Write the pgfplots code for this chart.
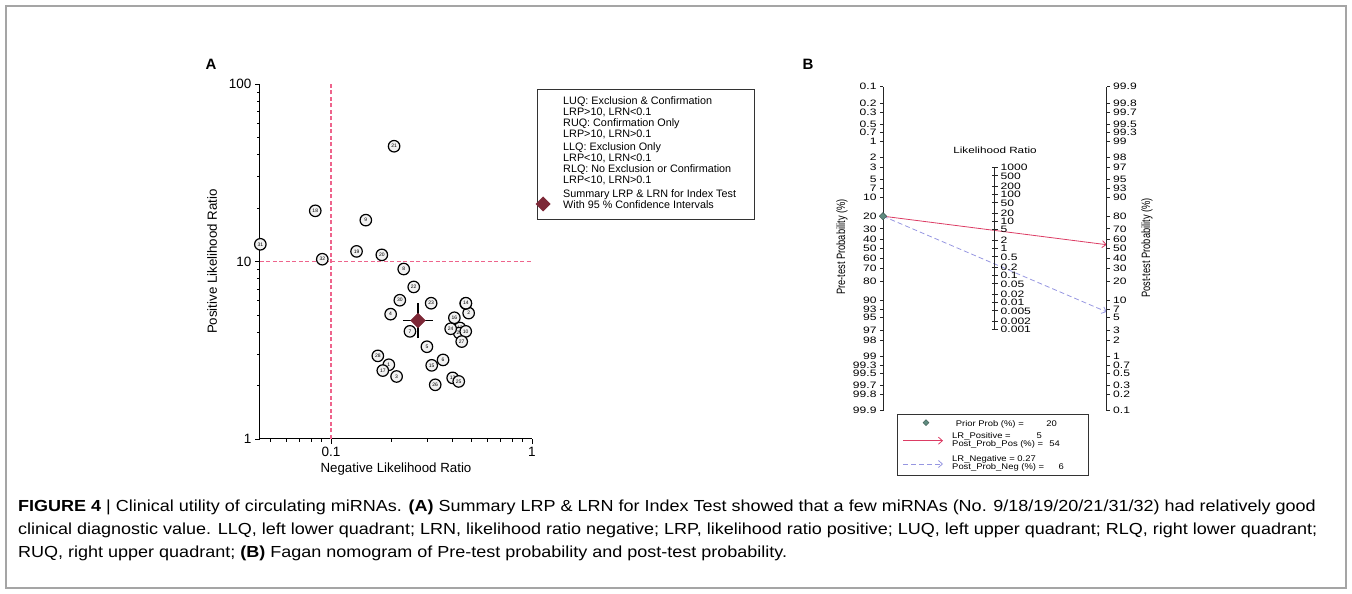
\documentclass[border=0pt]{standalone}
\usepackage{fontspec}
\setmainfont{Liberation Sans}
\newfontfamily\bfont[FakeStretch=1.3]{Liberation Sans}
\newfontfamily\lfont[FakeStretch=1.15]{Liberation Sans}
\newfontfamily\cfont[FakeStretch=1.125]{Liberation Sans}
\usepackage{pgfplots}
\usepackage{pgfplotstable}
\pgfplotsset{compat=1.18}
\usetikzlibrary{arrows.meta}

\definecolor{quadpink}{RGB}{238,100,140}
\definecolor{summ}{RGB}{125,40,55}
\definecolor{posred}{RGB}{220,60,100}
\definecolor{neglav}{RGB}{150,150,225}
\definecolor{prior}{RGB}{95,140,128}
\definecolor{framegray}{RGB}{165,165,165}

\pgfplotstableread{
lab x y
12 0.438 4.22
29 0.435 3.95
13 0.403 2.21
1 0.194 2.62
2 0.484 5.12
3 0.212 2.25
4 0.198 5.05
5 0.300 3.31
6 0.361 2.79
7 0.247 4.04
8 0.230 9.07
9 0.149 17.1
10 0.468 4.04
11 0.468 5.80
14 0.469 5.82
15 0.317 2.60
16 0.411 4.82
17 0.181 2.43
18 0.0835 19.3
19 0.134 11.4
20 0.179 10.9
21 0.206 44.6
22 0.258 7.19
23 0.315 5.82
24 0.394 4.18
25 0.432 2.11
26 0.330 2.02
27 0.447 3.54
28 0.171 2.94
30 0.220 6.05
31 0.0445 12.5
32 0.0905 10.3
}\lrdata

\begin{document}
\begin{tikzpicture}[x=1pt,y=1pt]
\path (0,0) rectangle (1352,594);
\draw[framegray, line width=1.2pt] (6,6) rectangle (1346,588);

\node[font=\bfseries\fontsize{15}{15}\selectfont] at (211,530) {A};
\node[font=\bfseries\fontsize{15}{15}\selectfont] at (808,530) {B};

% ---------------- Panel A ----------------
\begin{axis}[
  at={(260pt,155pt)}, anchor=south west, scale only axis,
  width=272pt, height=355pt,
  xmode=log, ymode=log, xmin=0.04433, xmax=1, ymin=1, ymax=100,
  axis x line*=bottom, axis y line*=left,
  axis line style={line width=1pt, black},
  tick align=outside,
  xtick={0.1,1}, xticklabels={0.1,1},
  ytick={1,10,100}, yticklabels={1,10,100},
  minor xtick={0.05,0.06,0.07,0.08,0.09,0.2,0.3,0.4,0.5,0.6,0.7,0.8,0.9},
  minor ytick={2,3,4,5,6,7,8,9,20,30,40,50,60,70,80,90},
  major tick length=5pt, minor tick length=3pt,
  every tick/.style={black, line width=0.8pt},
  tick label style={font=\fontsize{13.5}{13.5}\selectfont},
  /pgf/number format/assume math mode=true,
  clip=false,
]
\addplot[quadpink, solid, line width=1.3pt, dash pattern=on 4pt off 2.5pt] coordinates {(0.1,1) (0.1,100)};
\addplot[quadpink, solid, line width=1.3pt, dash pattern=on 4pt off 2.5pt] coordinates {(0.04433,10) (1,10)};
\addplot[draw=none, mark=none, nodes near coords, point meta=explicit symbolic,
  every node near coord/.append style={circle, draw=black, line width=1.2pt, fill=gray!10,
    minimum size=11.5pt, inner sep=0pt, anchor=center, text=black, font=\fontsize{5}{5}\selectfont}]
  table[x=x, y=y, meta=lab] {\lrdata};
\addplot[only marks, mark=square*, mark size=5.2pt, mark options={rotate=45, fill=summ, draw=summ}] coordinates {(0.271,4.65)};
\addplot[black, line width=1.2pt] coordinates {(0.2275,4.65) (0.323,4.65)};
\addplot[black, line width=1.2pt] coordinates {(0.271,3.70) (0.271,5.82)};
\end{axis}

\node[rotate=90, font=\fontsize{13.3}{13.3}\selectfont] at (212,332.5) {Positive Likelihood Ratio};
\node[font=\fontsize{13.3}{13.3}\selectfont] at (396,125) {Negative Likelihood Ratio};

% legend A
\draw[black!80, line width=0.9pt] (537,505) rectangle (754,375);
\begin{scope}[every node/.style={anchor=base west, inner sep=0pt, font=\fontsize{10.8}{10.8}\selectfont}]
\node at (563,489.4) {LUQ: Exclusion \& Confirmation};
\node at (563,478.4) {LRP>10, LRN<0.1};
\node at (563,467.1) {RUQ: Confirmation Only};
\node at (563,456.1) {LRP>10, LRN>0.1};
\node at (563,443.1) {LLQ: Exclusion Only};
\node at (563,432.1) {LRP<10, LRN<0.1};
\node at (563,421.1) {RLQ: No Exclusion or Confirmation};
\node at (563,410.1) {LRP<10, LRN>0.1};
\node at (563,396.1) {Summary LRP \& LRN for Index Test};
\node at (563,385.1) {With 95 \% Confidence Intervals};
\end{scope}
\fill[summ] (543,397.5) -- (550.5,390) -- (543,382.5) -- (535.5,390) -- cycle;

% ---------------- Panel B ----------------
\begin{axis}[
  at={(883pt,183.3pt)}, anchor=south west, scale only axis,
  width=223.7pt, height=324pt,
  xmin=0, xmax=1, ymin=-6.9068, ymax=6.9068,
  axis x line=none, axis y line*=left,
  axis line style={line width=0.8pt, black!85},
  tick align=outside, major tick length=3pt,
  every tick/.style={black!85, line width=0.7pt},
  ytick={6.9068,6.2126,5.8061,5.2933,4.9547,4.5951,3.8918,3.4761,2.9444,2.5867,2.1972,1.3863,0.8473,0.4055,0,-0.4055,-0.8473,-1.3863,-2.1972,-2.5867,-2.9444,-3.4761,-3.8918,-4.5951,-4.9547,-5.2933,-5.8061,-6.2126,-6.9068},
  yticklabels={0.1,0.2,0.3,0.5,0.7,1,2,3,5,7,10,20,30,40,50,60,70,80,90,93,95,97,98,99,99.3,99.5,99.7,99.8,99.9},
  tick label style={font=\bfont\fontsize{9.3}{9.3}\selectfont},
  /pgf/number format/assume math mode=true,
  clip=false,
]
\addplot[neglav, line width=0.8pt, dash pattern=on 5pt off 3pt, -{Straight Barb[length=4pt,width=7pt]}] coordinates {(0,1.3863) (1,-2.695)};
\addplot[posred, line width=0.8pt, -{Straight Barb[length=4pt,width=7pt]}] coordinates {(0,1.3863) (1,0.17)};
\addplot[only marks, mark=square*, mark size=2.6pt, mark options={rotate=45, fill=prior, draw=prior!60!black}] coordinates {(0,1.3863)};
\end{axis}

\begin{axis}[
  at={(883pt,183.3pt)}, anchor=south west, scale only axis,
  width=223.7pt, height=324pt,
  xmin=0, xmax=1, ymin=-6.9068, ymax=6.9068,
  axis x line=none, axis y line*=right,
  axis line style={line width=0.8pt, black!85},
  tick align=outside, major tick length=3pt,
  every tick/.style={black!85, line width=0.7pt},
  ytick={6.9068,6.2126,5.8061,5.2933,4.9547,4.5951,3.8918,3.4761,2.9444,2.5867,2.1972,1.3863,0.8473,0.4055,0,-0.4055,-0.8473,-1.3863,-2.1972,-2.5867,-2.9444,-3.4761,-3.8918,-4.5951,-4.9547,-5.2933,-5.8061,-6.2126,-6.9068},
  yticklabels={99.9,99.8,99.7,99.5,99.3,99,98,97,95,93,90,80,70,60,50,40,30,20,10,7,5,3,2,1,0.7,0.5,0.3,0.2,0.1},
  tick label style={font=\bfont\fontsize{9.3}{9.3}\selectfont},
  /pgf/number format/assume math mode=true,
  clip=false,
]
\addplot[draw=none] coordinates {(0.5,0)};
\end{axis}

% middle likelihood-ratio scale (axis furniture)
\draw[black!85, line width=0.8pt] (994.85,{345.3-23.455*3.4539}) -- (994.85,{345.3+23.455*3.4539});
\foreach \u/\l in {3.4539/1000,3.1073/500,2.6492/200,2.3026/100,1.9560/50,1.4979/20,1.1513/10,0.8047/5,0.3466/2,0/1,-0.3466/0.5,-0.8047/0.2,-1.1513/0.1,-1.4979/0.05,-1.9560/0.02,-2.3026/0.01,-2.6492/0.005,-3.1073/0.002,-3.4539/0.001}{
  \draw[black!85, line width=0.7pt] (991.85,{345.3+23.455*\u}) -- (997.85,{345.3+23.455*\u});
  \node[anchor=west, inner sep=0pt, font=\bfont\fontsize{9.3}{9.3}\selectfont] at (1000.5,{345.3+23.455*\u}) {\l};
}

\node[font=\bfont\fontsize{9}{9}\selectfont] at (995,444) {Likelihood Ratio};
\node[rotate=90, font=\fontsize{9.3}{9.3}\selectfont] at (842,347) {\scalebox{1}[1.3]{Pre-test Probability (\%)}};
\node[rotate=90, font=\fontsize{9.3}{9.3}\selectfont] at (1147,346) {\scalebox{1}[1.3]{Post-test Probability (\%)}};

% legend B
\draw[black!80, line width=0.8pt] (897.7,180) rectangle (1088.3,119);
\fill[prior, draw=prior!60!black] (926,174.3) -- (929,171.3) -- (926,168.3) -- (923,171.3) -- cycle;
\draw[posred, line width=0.8pt, -{Straight Barb[length=4pt,width=7pt]}] (903,153.3) -- (943,153.3);
\draw[neglav, line width=0.8pt, dash pattern=on 5pt off 3pt, -{Straight Barb[length=4pt,width=7pt]}] (903,130) -- (943,130);
\begin{scope}[every node/.style={inner sep=0pt, font=\lfont\fontsize{8.2}{8.2}\selectfont}]
\node[anchor=base west] at (955.7,167.8) {Prior Prob (\%) =};
\node[anchor=base east] at (1057,167.8) {20};
\node[anchor=base west] at (952,155.8) {LR\_Positive =};
\node[anchor=base east] at (1042,155.8) {5};
\node[anchor=base west] at (952,147.3) {Post\_Prob\_Pos (\%) =};
\node[anchor=base east] at (1060,147.3) {54};
\node[anchor=base west] at (952,132.3) {LR\_Negative = 0.27};
\node[anchor=base west] at (952,124.3) {Post\_Prob\_Neg (\%) =};
\node[anchor=base east] at (1064,124.3) {6};
\end{scope}

% caption
\begin{scope}[every node/.style={anchor=base west, inner sep=0pt, font=\cfont\fontsize{16}{16}\selectfont}]
\node at (18,82) {\textbf{FIGURE 4} | Clinical utility of circulating miRNAs. \textbf{(A)} Summary LRP \& LRN for Index Test showed that a few miRNAs (No. 9/18/19/20/21/31/32) had relatively good};
\node at (18,59) {clinical diagnostic value. LLQ, left lower quadrant; LRN, likelihood ratio negative; LRP, likelihood ratio positive; LUQ, left upper quadrant; RLQ, right lower quadrant;};
\node at (18,36) {RUQ, right upper quadrant; \textbf{(B)} Fagan nomogram of Pre-test probability and post-test probability.};
\end{scope}
\end{tikzpicture}
\end{document}
